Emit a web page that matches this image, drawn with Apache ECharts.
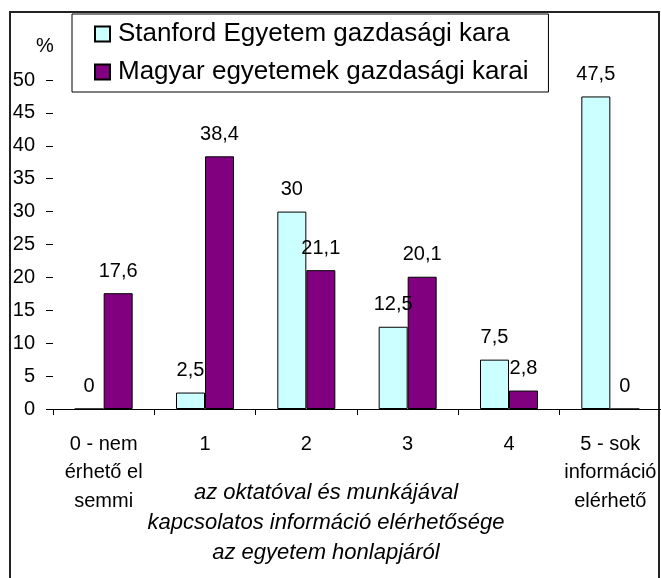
<!DOCTYPE html>
<html>
<head>
<meta charset="utf-8">
<script src="https://cdn.jsdelivr.net/npm/echarts@6/dist/echarts.min.js"></script>
<style>
  html, body { margin: 0; padding: 0; background: #fff; }
  #chart { width: 661px; height: 578px; }
</style>
</head>
<body>
<div id="chart"></div>
<script>
// values
const categories = ['0 - nem\nérhető el\nsemmi', '1', '2', '3', '4', '5 - sok\ninformáció\nelérhető']
const stanford = [0, 2.5, 30, 12.5, 7.5, 47.5]
const magyar = [17.6, 38.4, 21.1, 20.1, 2.8, 0]
const seriesNames = ['Stanford Egyetem gazdasági kara', 'Magyar egyetemek gazdasági karai']
const axisTitle = 'az oktatóval és munkájával\nkapcsolatos információ elérhetősége\naz egyetem honlapjáról'

const font = 'Arial, "Liberation Sans", sans-serif'
let chart = echarts.init(document.getElementById('chart'))

let barLabel = {
  show: true,
  position: 'top',
  distance: 12,
  color: '#000',
  fontFamily: font,
  fontSize: 20,
  formatter: p => String(p.value).replace('.', ',')
}

let option = {
  animation: false,
  title: {
    text: axisTitle,
    left: 321,
    top: 473,
    textAlign: 'center',
    textStyle: {
      fontFamily: font,
      fontSize: 22,
      fontStyle: 'italic',
      fontWeight: 'normal',
      lineHeight: 30,
      color: '#000'
    }
  },
  legend: {
    left: 72,
    top: 14,
    orient: 'vertical',
    data: seriesNames,
    icon: 'rect',
    itemWidth: 15,
    itemHeight: 15,
    itemGap: 12,
    padding: [7, 20, 7, 22],
    borderColor: '#000',
    borderWidth: 1,
    textStyle: { fontFamily: font, fontSize: 26, color: '#000', padding: [0, 0, 0, 3] }
  },
  grid: {
    left: 53,
    top: 80,
    width: 610,
    height: 329
  },
  xAxis: {
    type: 'category',
    data: categories,
    axisLine: { lineStyle: { color: '#000', width: 1 } },
    axisTick: { show: true, length: 6, lineStyle: { color: '#000' } },
    axisLabel: {
      interval: 0,
      margin: 21,
      color: '#000',
      fontFamily: font,
      fontSize: 20,
      lineHeight: 28.5
    }
  },
  yAxis: {
    type: 'value',
    min: 0,
    max: 50,
    interval: 5,
    name: '%',
    nameLocation: 'end',
    nameGap: 24,
    nameTextStyle: { fontFamily: font, fontSize: 20, color: '#000', padding: [0, 16, 0, 0] },
    axisLine: { show: false },
    axisTick: { show: true, length: 7, lineStyle: { color: '#000' } },
    splitLine: { show: false },
    axisLabel: { margin: 18, color: '#000', fontFamily: font, fontSize: 20 }
  },
  graphic: [{
    type: 'rect',
    shape: { x: 10, y: 12, width: 649, height: 620 },
    style: { fill: 'none', stroke: '#222', lineWidth: 2 },
    silent: true
  }],
  series: [
    {
      name: seriesNames[0],
      type: 'bar',
      data: stanford,
      barWidth: 29,
      barGap: '0%',
      itemStyle: { color: '#ccffff', borderColor: '#000', borderWidth: 1 },
      label: barLabel
    },
    {
      name: seriesNames[1],
      type: 'bar',
      data: magyar,
      barWidth: 29,
      barGap: '0%',
      itemStyle: { color: '#800080', borderColor: '#000', borderWidth: 1 },
      label: barLabel
    }
  ]
}
chart.setOption(option)
</script>
</body>
</html>
